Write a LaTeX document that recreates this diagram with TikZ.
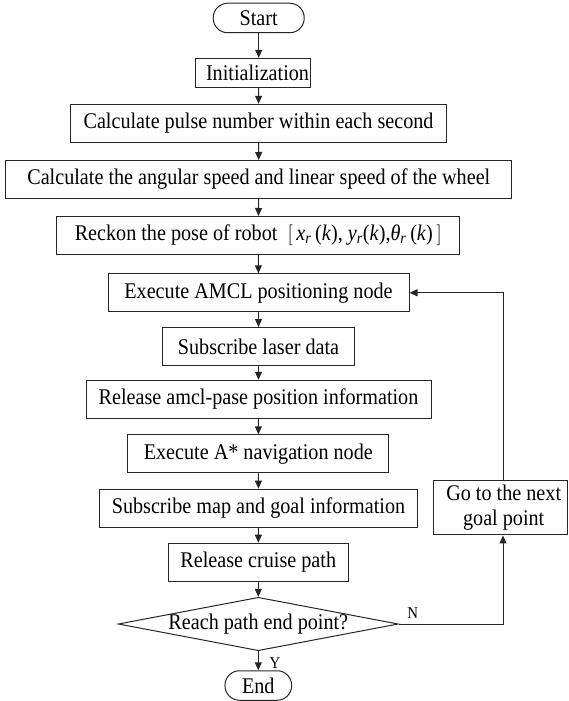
\documentclass[tikz,border=0pt]{standalone}
\usepackage{fontspec}
\setmainfont[FakeStretch=0.9]{Liberation Serif}
\usetikzlibrary{arrows.meta,shapes.geometric}
\begin{document}
\begin{tikzpicture}[x=1pt,y=-1pt,
  every node/.style={font=\fontsize{22.4pt}{25pt}\selectfont, inner sep=0pt},
  proc/.style={draw=black!85, line width=1pt, rectangle, minimum height=38pt},
  term/.style={draw=black!85, line width=1pt, rectangle, rounded corners=14.5pt, minimum height=29.5pt},
  decide/.style={draw=black!85, line width=1pt, diamond, aspect=5.24, minimum width=280pt, minimum height=53.4pt, inner sep=-2pt},
  arr/.style={draw=black!85, line width=1pt, -{Triangle[length=8pt,width=7pt]}},
  lbl/.style={font=\fontsize{16.5pt}{19pt}\selectfont}
]
\useasboundingbox (0,0) rectangle (569,701);

% main chain of steps
\node[term, minimum width=91pt]    (start)  at (258.7,18)    {Start};
\node[proc, minimum width=115pt, minimum height=29pt] (init) at (252.5,72.8) {\hspace*{10pt}Initialization};
\node[proc, minimum width=375.6pt] (pulse)  at (258.5,123.3) {Calculate pulse number within each second};
\node[proc, minimum width=505.7pt] (speed)  at (258.8,179.5) {Calculate the angular speed and linear speed of the wheel};
\node[proc, minimum width=403.3pt] (pose)   at (258.3,235.5)
  {Reckon the pose of robot\ \ $\biggl[$\,\textit{x}\textsubscript{\textit{r}}\,(\textit{k}), \textit{y}\textsubscript{\textit{r}}(\textit{k}),\textit{θ}\textsubscript{\textit{r}}\,(\textit{k})\,$\biggr]$};
\node[proc, minimum width=301pt]   (amcl)   at (258.5,292.8) {Execute AMCL positioning node};
\node[proc, minimum width=191.6pt] (laser)  at (258.5,346.5) {Subscribe laser data};
\node[proc, minimum width=345pt]   (pose2)  at (258.5,399.3) {Release amcl-pase position information};
\node[proc, minimum width=261.3pt] (astar)  at (258.3,453.8) {Execute A* navigation node};
\node[proc, minimum width=318.4pt] (map)    at (258.5,508.2) {Subscribe map and goal information};
\node[proc, minimum width=180pt]   (cruise) at (258.3,562.2) {Release cruise path};
\node[decide]                      (reach)  at (258.3,624)   {\raisebox{-3pt}{Reach path end point?}};
\node[term, minimum width=66.7pt]  (stop)   at (258.3,685.5) {End};

% loop-back step
\node[proc, minimum width=133.7pt, minimum height=54.3pt, align=center] (next) at (500.2,507.8)
  {\hspace*{7pt}Go to the next\\\hspace*{7pt}goal point};
\coordinate (loopx) at (503,0);

% connectors
\draw[arr] (start.south) -- (start.south |- init.north);
\draw[arr] (init.south -| start.south) -- (pulse.north);
\draw[arr] (pulse) -- (speed);
\draw[arr] (speed) -- (pose);
\draw[arr] (pose) -- (amcl);
\draw[arr] (amcl) -- (laser);
\draw[arr] (laser) -- (pose2);
\draw[arr] (pose2) -- (astar);
\draw[arr] (astar) -- (map);
\draw[arr] (map) -- (cruise);
\draw[arr] (cruise) -- (reach);
\draw[arr] (reach) -- (stop);
\draw[arr] (reach.east) -- (reach.east -| loopx) -- (next.south -| loopx);
\draw[arr] (next.north -| loopx) -- (amcl.east -| loopx) -- (amcl.east);

% branch labels
\node[lbl] (nlab) at (412.7,613) {N};
\node[lbl] (ylab) at (275,663) {Y};
\end{tikzpicture}
\end{document}
